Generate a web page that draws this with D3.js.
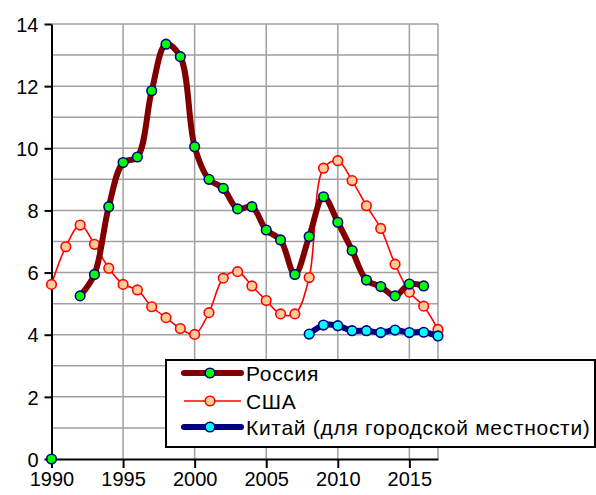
<!DOCTYPE html>
<html lang="ru">
<head>
    <meta charset="utf-8">
    <title>Russia / USA / China</title>
    <script src="https://d3js.org/d3.v7.min.js"></script>
    <style>
      body { margin: 0; background: #fff; }
      text { font-family: "Liberation Sans", Arial, sans-serif; fill: #000; }
    </style>
</head>
<body>
<div id="chart"></div>
<script>
  var years  = d3.range(1990, 2018);
  var russia = [0, null, 5.25, 5.94, 8.12, 9.54, 9.72, 11.85, 13.35, 12.95, 10.05,
                9.0, 8.71, 8.05, 8.12, 7.37, 7.05, 5.94, 7.16, 8.44, 7.62,
                6.71, 5.76, 5.55, 5.25, 5.63, 5.57, null];
  var usa    = [5.62, 6.83, 7.53, 6.91, 6.14, 5.62, 5.44, 4.9, 4.55, 4.2, 4.01,
                4.71, 5.82, 6.03, 5.57, 5.1, 4.67, 4.67, 5.84, 9.36, 9.6,
                8.96, 8.15, 7.42, 6.27, 5.37, 4.92, 4.17];
  var chinaYears = d3.range(2008, 2018);
  var china  = [4.02, 4.31, 4.29, 4.13, 4.13, 4.07, 4.15, 4.07, 4.08, 3.96];
  var yTicks = [0, 2, 4, 6, 8, 10, 12, 14];
  var xTicks = [1990, 1995, 2000, 2005, 2010, 2015];
  var legendNames = ["Россия", "США", "Китай (для городской местности)"];

  var W = 596, H = 495;
  var svg = d3.select("#chart").append("svg")
      .attr("width", W).attr("height", H);

  var x = d3.scaleLinear().domain([1990, 2017]).range([51.5, 438]);
  var y = d3.scaleLinear().domain([0, 14]).range([459, 24]);

  // grid
  var grid = svg.append("g").attr("stroke", "#a0a0a0").attr("stroke-width", 1.5);
  grid.selectAll(".h").data(d3.range(1, 15)).enter().append("line")
      .attr("x1", x(1990)).attr("x2", x(2017))
      .attr("y1", function(d) { return y(d); })
      .attr("y2", function(d) { return y(d); });
  grid.selectAll(".v").data([1995, 2000, 2005, 2010, 2015, 2017]).enter().append("line")
      .attr("x1", function(d) { return x(d); })
      .attr("x2", function(d) { return x(d); })
      .attr("y1", y(0)).attr("y2", y(14));

  // axes
  var yAxis = svg.append("g")
      .attr("transform", "translate(" + x(1990) + ",0)")
      .call(d3.axisLeft(y).tickValues(yTicks).tickSize(7).tickPadding(6).tickSizeOuter(0));
  var xAxis = svg.append("g")
      .attr("transform", "translate(0," + y(0) + ")")
      .call(d3.axisBottom(x).tickValues(xTicks).tickFormat(d3.format("d")).tickSize(9).tickPadding(4).tickSizeOuter(0));
  svg.selectAll(".domain, .tick line").attr("stroke", "#000").attr("stroke-width", 2);
  yAxis.selectAll("text").style("font-size", "20px").attr("dy", "0.36em");
  xAxis.selectAll("text").style("font-size", "20px");

  var curve = d3.curveCatmullRom.alpha(0.5);

  function drawSeries(xs, vals, lineColor, lineWidth, fill, stroke) {
    var pts = xs.map(function(yr, i) { return {yr: yr, v: vals[i]}; });
    var line = d3.line()
        .defined(function(d) { return d.v != null; })
        .x(function(d) { return x(d.yr); })
        .y(function(d) { return y(d.v); })
        .curve(curve);
    svg.append("path").datum(pts)
        .attr("fill", "none")
        .attr("stroke", lineColor)
        .attr("stroke-width", lineWidth)
        .attr("stroke-linejoin", "round")
        .attr("d", line);
    svg.append("g").selectAll("circle")
        .data(pts.filter(function(d) { return d.v != null; }))
        .enter().append("circle")
        .attr("cx", function(d) { return x(d.yr); })
        .attr("cy", function(d) { return y(d.v); })
        .attr("r", 4.8)
        .attr("fill", fill)
        .attr("stroke", stroke)
        .attr("stroke-width", 1.6);
  }

  var styles = [
    {line: "#800000", w: 6, fill: "#00ff00", stroke: "#000080"},
    {line: "#ff0000", w: 1.6, fill: "#ffcc99", stroke: "#ff0000"},
    {line: "#000080", w: 6, fill: "#00ffff", stroke: "#000080"}
  ];

  drawSeries(years, usa, styles[1].line, styles[1].w, styles[1].fill, styles[1].stroke);
  drawSeries(years, russia, styles[0].line, styles[0].w, styles[0].fill, styles[0].stroke);
  drawSeries(chinaYears, china, styles[2].line, styles[2].w, styles[2].fill, styles[2].stroke);

  // legend
  var lg = svg.append("g");
  lg.append("rect")
      .attr("x", 166).attr("y", 360).attr("width", 429).attr("height", 87)
      .attr("fill", "#fff").attr("stroke", "#000").attr("stroke-width", 2);
  var rowY = [373, 401, 427];
  legendNames.forEach(function(name, i) {
    var s = styles[i];
    lg.append("line")
        .attr("x1", 184).attr("x2", 241)
        .attr("y1", rowY[i]).attr("y2", rowY[i])
        .attr("stroke", s.line).attr("stroke-width", s.w)
        .attr("stroke-linecap", i == 1 ? "butt" : "round");
    lg.append("circle")
        .attr("cx", 210).attr("cy", rowY[i]).attr("r", 4.8)
        .attr("fill", s.fill).attr("stroke", s.stroke).attr("stroke-width", 1.6);
    lg.append("text")
        .attr("x", 246).attr("y", rowY[i] + 8)
        .style("font-size", "21px")
        .style("letter-spacing", "0.7px")
        .text(name);
  });
</script>
</body>
</html>
